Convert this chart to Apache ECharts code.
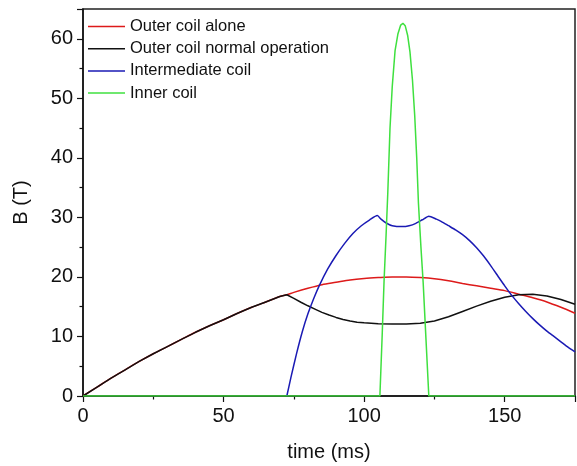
<!DOCTYPE html>
<html>
<head>
<meta charset="utf-8">
<script src="https://cdn.jsdelivr.net/npm/echarts@6/dist/echarts.min.js"></script>
<style>
  html, body { margin: 0; padding: 0; background: #fff; }
  #chart { width: 577px; height: 466px; }
</style>
</head>
<body>
<div id="chart"></div>
<script>
// ---- Data ----
const seriesNames = ['Outer coil alone', 'Outer coil normal operation', 'Intermediate coil', 'Inner coil'];

// Common rising part of the outer coil (0 .. 72.5 ms)
const tRise = [0, 5, 10, 15, 20, 25, 30, 35, 40, 45, 50, 55, 60, 65, 70, 72.5];
const bRise = [0, 1.5, 3.0, 4.4, 5.8, 7.1, 8.3, 9.5, 10.7, 11.8, 12.8, 13.9, 14.9, 15.8, 16.7, 17.0];

// Outer coil alone after 72.5 ms
const tOuterAlone = [75, 80, 85, 90, 95, 100, 105, 110, 115, 120, 125, 130, 135, 140, 145, 150, 155, 160, 165, 170, 175];
const bOuterAlone = [17.4, 18.1, 18.7, 19.1, 19.5, 19.75, 19.9, 20.0, 20.0, 19.9, 19.7, 19.35, 18.9, 18.5, 18.1, 17.7, 17.1, 16.5, 15.8, 14.9, 13.9];

// Outer coil normal operation after 72.5 ms
const tOuterNormal = [75, 77.5, 80, 82.5, 85, 87.5, 90, 92.5, 95, 97.5, 100, 105, 110, 115, 120, 125, 130, 135, 140, 145, 150, 155, 160, 165, 170, 175];
const bOuterNormal = [16.4, 15.75, 15.15, 14.6, 14.05, 13.6, 13.2, 12.85, 12.6, 12.4, 12.3, 12.15, 12.1, 12.1, 12.2, 12.6, 13.3, 14.2, 15.1, 15.9, 16.6, 17.0, 17.1, 16.8, 16.2, 15.4];

// Intermediate coil
const tInter = [72.5, 74, 76, 78, 80, 82, 84, 87, 90, 93, 96, 99, 102, 104.7, 106, 107.7, 110, 113.6, 116, 118.4, 120.7, 123, 125.7, 127.5, 130, 132.5, 135, 137.5, 140, 142.5, 145, 147.5, 150, 152.5, 155, 157.5, 160, 162.5, 165, 167.5, 170, 172.5, 175];
const bInter = [0, 3.2, 7.2, 10.8, 13.8, 16.3, 18.5, 21.3, 23.6, 25.6, 27.3, 28.6, 29.6, 30.3, 29.7, 29.1, 28.6, 28.45, 28.6, 29.0, 29.6, 30.2, 29.7, 29.3, 28.6, 27.9, 27.1, 26.1, 24.9, 23.5, 21.9, 20.2, 18.5, 16.9, 15.5, 14.2, 13.0, 11.9, 10.9, 10.0, 9.1, 8.2, 7.4];

// Inner coil
const tInner = [0, 105.6, 106.4, 107.1, 107.8, 108.4, 109.2, 110.0, 111.0, 112.0, 113.0, 113.8, 114.6, 115.5, 116.3, 117.2, 118.0, 118.7, 119.3, 120.2, 121.0, 122.0, 123.0, 175];
const bInner = [0, 0, 10, 19.5, 27, 34, 45, 52, 58, 60.8, 62.3, 62.6, 62.2, 60.5, 57.8, 53, 47, 40, 32.5, 25, 19, 9.5, 0, 0];

// Axis settings
const xTicks = { min: 0, max: 175, interval: 50 };
const yTicks = { min: 0, max: 65, interval: 10 };

const zip = (t, b) => t.map((v, i) => [v, b[i]]);

const outerAloneData = zip(tRise, bRise).concat(zip(tOuterAlone, bOuterAlone));
const outerNormalData = zip(tRise, bRise).concat(zip(tOuterNormal, bOuterNormal));
const interData = zip(tInter, bInter);
const innerData = zip(tInner, bInner);

const colors = ['#dd1a1a', '#111111', '#1a1ab4', '#3fe03f'];
const FONT = '"Liberation Sans", Arial, Helvetica, sans-serif';

const chart = echarts.init(document.getElementById('chart'), null, { renderer: 'canvas' });

const mkSeries = (name, data, color, smooth) => ({
  name: name,
  type: 'line',
  data: data,
  showSymbol: false,
  symbol: 'none',
  smooth: smooth,
  lineStyle: { color: color, width: 1.5 },
  itemStyle: { color: color },
  emphasis: { disabled: true },
  animation: false
});

chart.setOption({
  animation: false,
  backgroundColor: '#ffffff',
  color: colors,
  grid: {
    left: 83, right: 2, top: 9, bottom: 70,
    containLabel: false,
    outerBoundsMode: 'none',
    show: true,
    borderColor: '#222',
    borderWidth: 1.5,
    backgroundColor: 'transparent'
  },
  legend: {
    orient: 'vertical',
    left: 88,
    top: 18,
    padding: 0,
    icon: 'rect',
    itemWidth: 37,
    itemHeight: 1.5,
    itemGap: 5.2,
    textStyle: { fontFamily: FONT, fontSize: 16.5, color: '#111', lineHeight: 16 },
    data: seriesNames,
    selectedMode: false
  },
  xAxis: {
    type: 'value',
    min: xTicks.min, max: xTicks.max, interval: xTicks.interval,
    name: 'time (ms)',
    nameLocation: 'middle',
    nameGap: 46,
    nameTextStyle: { fontFamily: FONT, fontSize: 20, color: '#111' },
    axisLine: { show: true, onZero: false, lineStyle: { color: '#111', width: 1.5 } },
    axisTick: { show: true, inside: false, length: 6, lineStyle: { color: '#111', width: 1.2 } },
    minorTick: { show: true, splitNumber: 2, length: 3.5, lineStyle: { color: '#111', width: 1.2 } },
    axisLabel: { show: true, margin: 10, fontFamily: FONT, fontSize: 20, color: '#111', showMaxLabel: false },
    splitLine: { show: false },
    minorSplitLine: { show: false }
  },
  yAxis: {
    type: 'value',
    min: yTicks.min, max: yTicks.max, interval: yTicks.interval,
    name: 'B (T)',
    nameLocation: 'middle',
    nameGap: 52,
    nameRotate: 90,
    nameTextStyle: { fontFamily: FONT, fontSize: 20, color: '#111' },
    axisLine: { show: true, onZero: false, lineStyle: { color: '#111', width: 1.5 } },
    axisTick: { show: true, inside: false, length: 6, lineStyle: { color: '#111', width: 1.2 } },
    minorTick: { show: true, splitNumber: 2, length: 3.5, lineStyle: { color: '#111', width: 1.2 } },
    axisLabel: { show: true, margin: 10, fontFamily: FONT, fontSize: 20, color: '#111', showMaxLabel: false },
    splitLine: { show: false },
    minorSplitLine: { show: false }
  },
  series: [
    mkSeries(seriesNames[0], outerAloneData, colors[0], 0.3),
    mkSeries(seriesNames[1], outerNormalData, colors[1], false),
    mkSeries(seriesNames[2], interData, colors[2], 0.2),
    mkSeries(seriesNames[3], innerData, colors[3], false)
  ]
});
</script>
</body>
</html>
